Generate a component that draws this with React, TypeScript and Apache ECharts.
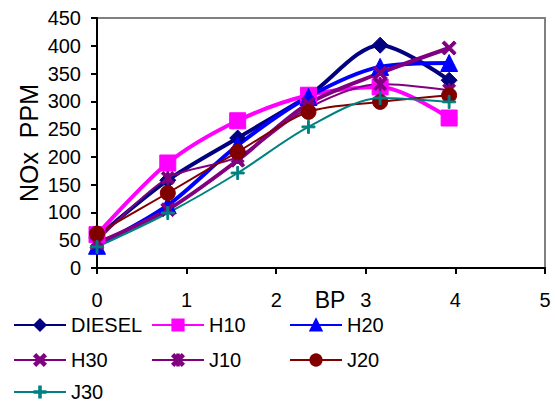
import React, { useEffect, useRef } from "react";
import * as echarts from "echarts";

const bpValues = [0, 0.79, 1.57, 2.36, 3.16, 3.93];
const xTicks = [0, 1, 2, 3, 4, 5];
const yTicks = [0, 50, 100, 150, 200, 250, 300, 350, 400, 450];

const seriesNames = ["DIESEL", "H10", "H20", "H30", "J10", "J20", "J30"];
const diesel = [55, 158, 234, 310, 401, 338];
const h10 = [60, 189, 265, 311, 326, 270];
const h20 = [40, 113, 221, 308, 362, 369];
const h30 = [45, 105, 194, 296, 351, 396];
const j10 = [48, 162, 200, 288, 331, 320];
const j20 = [62, 135, 209, 281, 299, 311];
const j30 = [38, 99, 171, 254, 306, 299];

const FONT = "'Liberation Sans', Arial, sans-serif";

const X_PATH = "path://M0,1.6 L1.6,0 L5,3.4 L8.4,0 L10,1.6 L6.6,5 L10,8.4 L8.4,10 L5,6.6 L1.6,10 L0,8.4 L3.4,5 Z";
const STAR_PATH = X_PATH + " M4.3,0 L5.7,0 L5.7,10 L4.3,10 Z";
const PLUS_PATH = "path://M4.3,0 L5.7,0 L5.7,4.3 L10,4.3 L10,5.7 L5.7,5.7 L5.7,10 L4.3,10 L4.3,5.7 L0,5.7 L0,4.3 L4.3,4.3 Z";

// legend slot positions: [left, top]
const legendSlots: Record<string, [number, number]> = {
  DIESEL: [13, 315],
  H10: [151, 315],
  H20: [289, 315],
  H30: [13, 350],
  J10: [151, 350],
  J20: [289, 350],
  J30: [13, 382],
};

export default function App() {
  const ref = useRef<HTMLDivElement>(null);
  useEffect(() => {
    if (!ref.current) return;
    const chart = echarts.init(ref.current, null, { renderer: "svg" });
    const mk = (name: string, vals: number[], color: string, width: number, symbol: string, size: number) => ({
      name,
      type: "line",
      data: vals.map((v, i) => [bpValues[i], v]),
      smooth: 0.3,
      symbol,
      symbolSize: size,
      showAllSymbol: true,
      lineStyle: { color, width },
      itemStyle: { color, borderColor: color, borderWidth: 1, opacity: 1 },
      emphasis: { disabled: true },
    });
    chart.setOption({
      animation: false,
      textStyle: { fontFamily: FONT },
      grid: {
        left: 97,
        right: 10,
        top: 18,
        bottom: 135,
        show: true,
        borderColor: "#808080",
        borderWidth: 2,
        backgroundColor: "#ffffff",
      },
      xAxis: {
        type: "value",
        min: 0,
        max: 5,
        interval: 1,
        name: "BP",
        nameLocation: "middle",
        nameGap: 20,
        nameMoveOverlap: false,
        nameTextStyle: { fontSize: 23, color: "#000", fontFamily: FONT, padding: [0, 0, 0, 18], verticalAlign: "top" },
        axisLine: { show: true, onZero: false, lineStyle: { color: "#000", width: 2 } },
        axisTick: { show: true, inside: false, length: 6, lineStyle: { color: "#000", width: 2 } },
        axisLabel: { fontSize: 20, color: "#000", margin: 22, fontFamily: FONT, formatter: (v: number) => (xTicks.includes(v) ? String(v) : "") },
        splitLine: { show: false },
      },
      yAxis: {
        type: "value",
        min: 0,
        max: 450,
        interval: 50,
        name: "NOx  PPM",
        nameLocation: "middle",
        nameRotate: 90,
        nameGap: 56,
        nameMoveOverlap: false,
        nameTextStyle: { fontSize: 25, color: "#000", fontFamily: FONT },
        axisLine: { show: true, onZero: false, lineStyle: { color: "#000", width: 2 } },
        axisTick: { show: true, inside: false, length: 6, lineStyle: { color: "#000", width: 2 } },
        axisLabel: { fontSize: 20, color: "#000", margin: 16, fontFamily: FONT, formatter: (v: number) => (yTicks.includes(v) ? String(v) : "") },
        splitLine: { show: false },
      },
      legend: seriesNames.map((n) => ({
        data: [n],
        left: legendSlots[n][0],
        top: legendSlots[n][1],
        padding: 0,
        orient: "horizontal",
        itemWidth: 52,
        itemHeight: 14,
        selectedMode: false,
        textStyle: { fontSize: 20, color: "#000", fontFamily: FONT, lineHeight: 20 },
      })),
      series: [
        mk(seriesNames[0], diesel, "#000080", 4, "diamond", 16),
        mk(seriesNames[1], h10, "#FF00FF", 4, "rect", 16),
        mk(seriesNames[2], h20, "#0000FF", 4, "triangle", 17),
        mk(seriesNames[3], h30, "#800080", 4, X_PATH, 14),
        mk(seriesNames[4], j10, "#800080", 2, STAR_PATH, 13),
        mk(seriesNames[5], j20, "#800000", 2, "circle", 15),
        mk(seriesNames[6], j30, "#008080", 2, PLUS_PATH, 13),
      ],
    });
    return () => chart.dispose();
  }, []);
  return <div ref={ref} style={{ width: 555, height: 403, position: "absolute", left: 0, top: 0 }} />;
}
